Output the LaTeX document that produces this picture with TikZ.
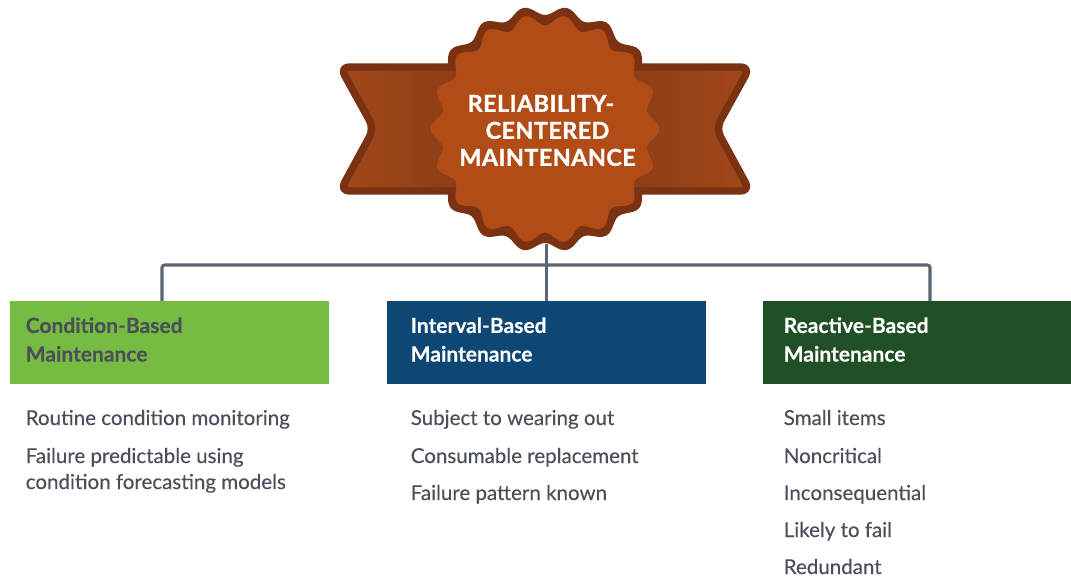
\documentclass[tikz,border=0pt]{standalone}
\usepackage{fontspec}
\setmainfont{Lato}
\newfontfamily\itemface[FakeBold=0.25]{Lato}
\newfontfamily\headface[BoldFont={Lato Bold},BoldFeatures={FakeBold=0.2}]{Lato}
\newfontfamily\badgeface[LetterSpace=2,UprightFeatures={FakeBold=1.2}]{Lato Bold}
\usetikzlibrary{calc}
\definecolor{ringdark}{HTML}{7A3212}
\definecolor{burstfill}{HTML}{B14C16}
\definecolor{ribbonedge}{HTML}{A2481A}
\definecolor{ribbonmid}{HTML}{7E3513}
\definecolor{leafgreen}{HTML}{76BC43}
\definecolor{navyblue}{HTML}{0E4674}
\definecolor{forestgreen}{HTML}{215026}
\definecolor{inkgray}{HTML}{4A4F5A}
\definecolor{wiregray}{HTML}{5C6670}
\tikzset{
  wire/.style={draw=wiregray,line width=2.3pt,rounded corners=2pt},
  catbox/.style={rectangle,inner sep=0pt,minimum height=62.25pt,draw=none},
  cathead/.style={anchor=base west,inner sep=0pt,align=left,font=\fontsize{15.75}{21.4}\selectfont\bfseries},
  catitem/.style={anchor=base west,inner sep=0pt,align=left,text=inkgray,font=\fontsize{15.4}{19.5}\itemface\selectfont},
  badgetext/.style={inner sep=0pt,align=center,text=white,font=\fontsize{17.5}{20.25}\badgeface\selectfont}
}
\begin{document}
\begin{tikzpicture}[x=0.75pt,y=-0.75pt]
\useasboundingbox (0,0) rectangle (1071,577);
% nodes used by connectors
\node[catbox,fill=leafgreen,minimum width=239.25pt] (box1) at (169.5,342.5) {};
\node[catbox,fill=navyblue,minimum width=239.25pt] (box2) at (546.5,342.5) {};
\node[catbox,fill=forestgreen,minimum width=231pt] (box3) at (917,342.5) {};
\node[circle,inner sep=0pt,minimum size=172.5pt] (badge) at (545,129) {};
\coordinate (d1) at (162,301);
\coordinate (d3) at (930,301);
\coordinate (b1) at (162,265);
\coordinate (b3) at (930,265);
% connectors
\draw[wire] (d1) -- (b1) -- (b3) -- (d3);
\draw[wire] (badge.south -| box2.north) -- (box2.north);
% burst outer ring
\fill[ringdark] plot[samples=217,domain=0:360] ({545+(118.5+4.5*cos(18*\x))*cos(\x)},{129+(118.5+4.5*cos(18*\x))*sin(\x)}) -- cycle;
% ribbon
\draw[ringdark,line width=5.6pt,line join=round,rounded corners=7pt,left color=ribbonedge,right color=ribbonedge,middle color=ribbonmid]
  (340,67) -- (374,128.5) -- (340,191) -- (750,191) -- (716,128.5) -- (750,67) -- cycle;
% burst inner
\fill[burstfill] plot[samples=217,domain=0:360] ({545+(109+5.5*cos(18*\x))*cos(\x)},{129+(109+5.5*cos(18*\x))*sin(\x)}) -- cycle;
\node[badgetext] (title) at (547.5,130.5) {RELIABILITY-\hspace*{9.8pt}\\CENTERED\hspace*{4.5pt}\\MAINTENANCE};
% headers
\node[cathead,text=inkgray] (h1) at (25.5,361.5) {\headface\bfseries Condition-Based\\\headface\bfseries Maintenance};
\node[cathead,text=white] (h2) at (410.5,361.5) {\headface\bfseries Interval-Based\\\headface\bfseries Maintenance};
\node[cathead,text=white] (h3) at (783.5,361.5) {\headface\bfseries Reactive-Based\\\headface\bfseries Maintenance};
% items
\node[catitem] (a1) at (25.5,425) {Routine condition monitoring};
\node[catitem] (a2) at (25.5,489) {Failure predictable using\\condition forecasting models};
\node[catitem] (b1t) at (410.5,425) {Subject to wearing out};
\node[catitem] (b2t) at (410.5,463) {Consumable replacement};
\node[catitem] (b3t) at (410.5,500) {Failure pattern known};
\node[catitem] (c1) at (783.5,425) {Small items};
\node[catitem] (c2) at (783.5,463) {Noncritical};
\node[catitem] (c3) at (783.5,500) {Inconsequential};
\node[catitem] (c4) at (783.5,537) {Likely to fail};
\node[catitem] (c5) at (783.5,574) {Redundant};
\end{tikzpicture}
\end{document}
